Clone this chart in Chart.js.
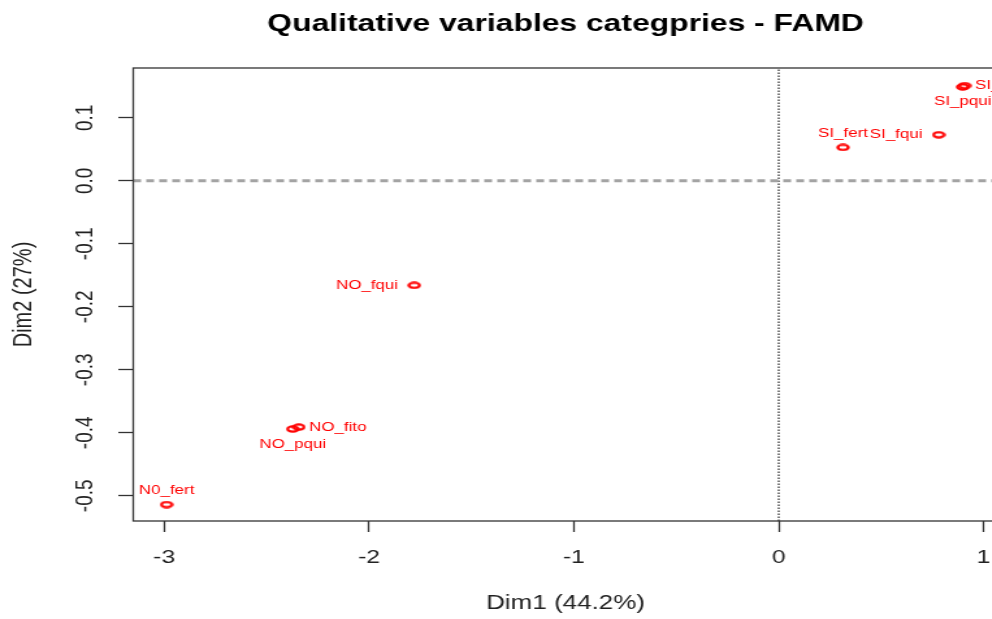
<!DOCTYPE html>
<html>
<head>
<meta charset="utf-8">
<title>Qualitative variables categpries - FAMD</title>
<script src="https://cdn.jsdelivr.net/npm/chart.js@4.4.1/dist/chart.umd.min.js"></script>
<style>
  html, body { margin: 0; padding: 0; background: #fff; overflow: hidden; }
  /* the plot is drawn on a narrower canvas and widened horizontally */
  #wrap { width: 776px; height: 619px; transform: scaleX(1.3); transform-origin: 0 0; }
</style>
</head>
<body>
<div id="wrap"><canvas id="famd"></canvas></div>
<script>
// Category coordinates on the first two FAMD dimensions
const categories = ['N0_fert', 'NO_pqui', 'NO_fito', 'NO_fqui', 'SI_fert', 'SI_fqui', 'SI_fito', 'SI_pqui'];
const dim1 = [-2.988, -2.372, -2.343, -1.779, 0.314, 0.781, 0.908, 0.898];
const dim2 = [-0.514, -0.394, -0.391, -0.166, 0.053, 0.073, 0.151, 0.149];

// Axis ticks and limits
const xTicks = [-3, -2, -1, 0, 1];
const yTicks = [-0.5, -0.4, -0.3, -0.2, -0.1, 0.0, 0.1];
const xRange = [-3.151, 1.07];
const yRange = [-0.540, 0.179];

const FONT = '"Liberation Sans", Arial, Helvetica, sans-serif';

// Which side of its marker each category name is written on
const labelSide = {
  N0_fert: 'above', NO_pqui: 'below', NO_fito: 'right', NO_fqui: 'left',
  SI_fert: 'above', SI_fqui: 'left', SI_fito: 'right', SI_pqui: 'below'
};

const points = categories.map((c, i) => ({ x: dim1[i], y: dim2[i], label: c }));

// Flat open ring used as the category marker
function ringMarker() {
  const c = document.createElement('canvas');
  c.width = 11; c.height = 8;
  const g = c.getContext('2d');
  g.strokeStyle = '#ff0000';
  g.lineWidth = 2.3;
  g.beginPath();
  g.ellipse(5.5, 4, 4.1, 2.6, 0, 0, Math.PI * 2);
  g.stroke();
  return c;
}
const marker = ringMarker();

// Writes the category names next to their markers
const categoryLabels = {
  id: 'categoryLabels',
  afterDatasetsDraw(chart) {
    const meta = chart.getDatasetMeta(0);
    const ctx = chart.ctx;
    ctx.save();
    ctx.font = '13px ' + FONT;
    ctx.fillStyle = '#ff0000';
    ctx.textBaseline = 'middle';
    meta.data.forEach((el, i) => {
      const name = categories[i];
      const side = labelSide[name];
      let x = el.x, y = el.y;
      if (side === 'above') { ctx.textAlign = 'center'; y -= 14; }
      else if (side === 'below') { ctx.textAlign = 'center'; y += 15; }
      else if (side === 'right') { ctx.textAlign = 'left'; x += 8; }
      else { ctx.textAlign = 'right'; x -= 12.5; }
      ctx.fillText(name, x, y);
    });
    ctx.restore();
  }
};

// Plot frame
const plotFrame = {
  id: 'plotFrame',
  afterDraw(chart) {
    const a = chart.chartArea;
    const ctx = chart.ctx;
    ctx.save();
    ctx.strokeStyle = '#333';
    ctx.lineWidth = 1.3;
    ctx.strokeRect(a.left, a.top, a.right - a.left, a.bottom - a.top);
    ctx.restore();
  }
};

new Chart(document.getElementById('famd'), {
  type: 'scatter',
  data: {
    datasets: [
      {
        data: points,
        order: 0,
        pointStyle: marker,
        pointRadius: 4,
        showLine: false
      },
      {
        type: 'line',
        data: [{ x: xRange[0], y: 0 }, { x: xRange[1], y: 0 }],
        order: 1,
        borderColor: '#a3a3a3',
        borderWidth: 3,
        borderDash: [6, 4],
        pointRadius: 0,
        fill: false
      },
      {
        type: 'line',
        data: [{ x: 0, y: yRange[0] }, { x: 0, y: yRange[1] }],
        order: 2,
        borderColor: '#111',
        borderWidth: 1.1,
        borderDash: [1.5, 1.5],
        pointRadius: 0,
        fill: false
      }
    ]
  },
  options: {
    responsive: true,
    maintainAspectRatio: false,
    devicePixelRatio: 1,
    animation: false,
    layout: { padding: { left: 0, right: 6, top: 0, bottom: 0 } },
    plugins: {
      legend: { display: false },
      tooltip: { enabled: false },
      title: {
        display: true,
        text: 'Qualitative variables categpries - FAMD',
        color: '#000',
        fullSize: false,
        font: { family: FONT, size: 24.5, weight: 'bold' },
        padding: { top: 9.6, bottom: 29.0 }
      }
    },
    scales: {
      x: {
        type: 'linear',
        min: xRange[0],
        max: xRange[1],
        border: { display: false },
        grid: { drawOnChartArea: false, drawTicks: true, tickLength: 11, tickColor: '#333', tickWidth: 1.3 },
        afterBuildTicks(scale) { scale.ticks = xTicks.map(v => ({ value: v })); },
        afterFit(scale) { scale.height = 98; },
        ticks: {
          includeBounds: false,
          color: '#222',
          padding: 14,
          maxRotation: 0,
          font: { family: FONT, size: 19 },
          callback: v => String(v)
        },
        title: {
          display: true,
          text: 'Dim1 (44.2%)',
          color: '#222',
          font: { family: FONT, size: 20 },
          padding: { top: 0, bottom: 4 }
        }
      },
      y: {
        type: 'linear',
        min: yRange[0],
        max: yRange[1],
        border: { display: false },
        grid: { drawOnChartArea: false, drawTicks: true, tickLength: 11.5, tickColor: '#333', tickWidth: 1.3 },
        afterBuildTicks(scale) { scale.ticks = yTicks.map(v => ({ value: v })); },
        afterFit(scale) { scale.width = 102.5; },
        ticks: {
          includeBounds: false,
          color: '#222',
          padding: 9,
          minRotation: 90,
          maxRotation: 90,
          crossAlign: 'center',
          font: { family: FONT, size: 19 },
          callback: v => v.toFixed(1)
        },
        title: {
          display: true,
          text: 'Dim2 (27%)',
          color: '#222',
          font: { family: FONT, size: 20 },
          padding: { top: 6.5, bottom: 0 }
        }
      }
    }
  },
  plugins: [categoryLabels, plotFrame]
});
</script>
</body>
</html>
